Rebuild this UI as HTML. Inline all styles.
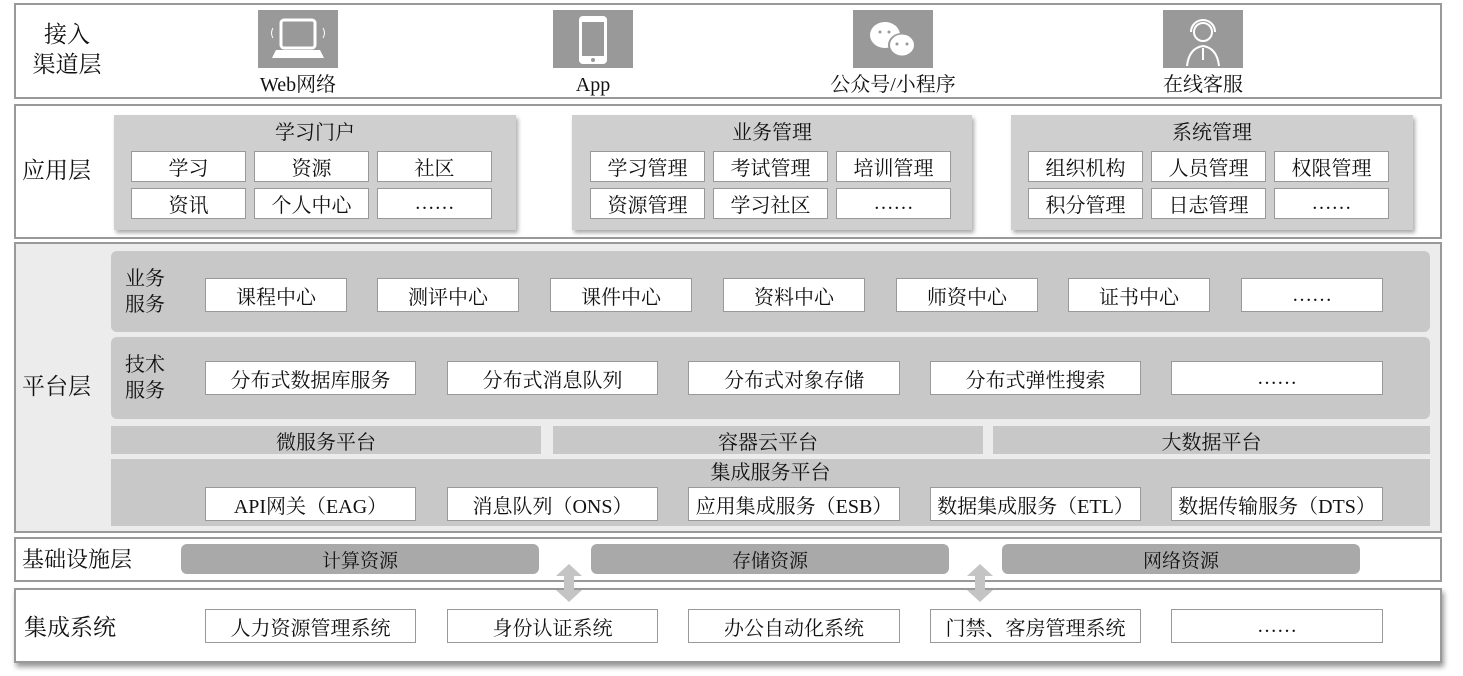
<!DOCTYPE html>
<html><head><meta charset="utf-8"><style>
*{margin:0;padding:0;box-sizing:border-box}
body{width:1463px;height:676px;background:#fff;position:relative;overflow:hidden;font-family:"Liberation Serif","Noto Serif CJK SC","Noto Sans CJK SC",serif;color:#111}
.a{position:absolute}
.layer{position:absolute;border:2px solid #999;background:#fff}
.c{display:flex;align-items:center;justify-content:center;text-align:center}
.box{position:absolute;background:#fff;border:1px solid #999;display:flex;align-items:center;justify-content:center;font-size:20px;white-space:nowrap}
.band{position:absolute;background:#c8c8c8;border-radius:6px}
.lbl{position:absolute;font-size:22px;line-height:30px}
.sm{position:absolute;font-size:20px;line-height:26px}
.icon{position:absolute;width:80px;height:58px;background:#999}
.grp{position:absolute;background:#cfcfcf;box-shadow:2px 3px 4px #aaa}
</style></head><body>
<!-- layer 1 -->
<div class="layer" style="left:14px;top:3px;width:1428px;height:96px"></div>
<div class="lbl" style="left:22px;top:20px;width:90px;text-align:center;font-size:23px">接入<br>渠道层</div>
<div class="icon" style="left:258px;top:10px"><svg width="80" height="58"><rect x="23" y="10" width="34" height="28" rx="3" fill="none" stroke="#fff" stroke-width="3"/><path d="M18 40h44l4 8H14z" fill="#fff"/><path d="M15 18q-3 5 0 10M65 18q3 5 0 10" stroke="#fff" fill="none"/></svg></div>
<div class="sm" style="left:238px;top:72px;width:120px;text-align:center">Web网络</div>
<div class="icon" style="left:553px;top:10px"><svg width="80" height="58"><rect x="26" y="6" width="28" height="48" rx="4" fill="#fff"/><rect x="29" y="12" width="22" height="34" fill="#999"/><circle cx="40" cy="50" r="2" fill="#999"/></svg></div>
<div class="sm" style="left:533px;top:72px;width:120px;text-align:center">App</div>
<div class="icon" style="left:853px;top:10px"><svg width="80" height="58"><ellipse cx="32" cy="25" rx="15" ry="13" fill="#fff"/><ellipse cx="49" cy="35" rx="14" ry="12" fill="#999"/><ellipse cx="49" cy="35" rx="12" ry="10.5" fill="#fff"/><circle cx="44" cy="34" r="1.5" fill="#999"/><circle cx="54" cy="34" r="1.5" fill="#999"/><circle cx="27" cy="22" r="1.5" fill="#999"/><circle cx="36" cy="22" r="1.5" fill="#999"/></svg></div>
<div class="sm" style="left:803px;top:72px;width:180px;text-align:center">公众号/小程序</div>
<div class="icon" style="left:1163px;top:10px"><svg width="80" height="58"><circle cx="40" cy="22" r="9" fill="none" stroke="#fff" stroke-width="2"/><path d="M28 22a12 12 0 0124 0" fill="none" stroke="#fff" stroke-width="2"/><path d="M24 56q2-18 16-20q14 2 16 20" fill="none" stroke="#fff" stroke-width="2"/><path d="M40 38v12" stroke="#fff" stroke-width="2"/></svg></div>
<div class="sm" style="left:1143px;top:72px;width:120px;text-align:center">在线客服</div>
<!-- layer 2 -->
<div class="layer" style="left:14px;top:104px;width:1428px;height:135px"></div>
<div class="lbl" style="left:22px;top:156px;font-size:23px">应用层</div>
<div class="grp" style="left:114px;top:115px;width:402px;height:115px"></div>
<div class="sm" style="left:114px;top:120px;width:402px;text-align:center">学习门户</div>
<div class="grp" style="left:572px;top:115px;width:400px;height:115px"></div>
<div class="sm" style="left:572px;top:120px;width:400px;text-align:center">业务管理</div>
<div class="grp" style="left:1011px;top:115px;width:402px;height:115px"></div>
<div class="sm" style="left:1011px;top:120px;width:402px;text-align:center">系统管理</div>
<div class="box" style="left:131px;top:151px;width:115px;height:31px">学习</div>
<div class="box" style="left:254px;top:151px;width:115px;height:31px">资源</div>
<div class="box" style="left:377px;top:151px;width:115px;height:31px">社区</div>
<div class="box" style="left:131px;top:188px;width:115px;height:31px">资讯</div>
<div class="box" style="left:254px;top:188px;width:115px;height:31px">个人中心</div>
<div class="box" style="left:377px;top:188px;width:115px;height:31px">……</div>
<div class="box" style="left:590px;top:151px;width:115px;height:31px">学习管理</div>
<div class="box" style="left:713px;top:151px;width:115px;height:31px">考试管理</div>
<div class="box" style="left:836px;top:151px;width:115px;height:31px">培训管理</div>
<div class="box" style="left:590px;top:188px;width:115px;height:31px">资源管理</div>
<div class="box" style="left:713px;top:188px;width:115px;height:31px">学习社区</div>
<div class="box" style="left:836px;top:188px;width:115px;height:31px">……</div>
<div class="box" style="left:1028px;top:151px;width:115px;height:31px">组织机构</div>
<div class="box" style="left:1151px;top:151px;width:115px;height:31px">人员管理</div>
<div class="box" style="left:1274px;top:151px;width:115px;height:31px">权限管理</div>
<div class="box" style="left:1028px;top:188px;width:115px;height:31px">积分管理</div>
<div class="box" style="left:1151px;top:188px;width:115px;height:31px">日志管理</div>
<div class="box" style="left:1274px;top:188px;width:115px;height:31px">……</div>
<!-- platform -->
<div class="layer" style="left:14px;top:242px;width:1428px;height:291px;background:#ececec"></div>
<div class="lbl" style="left:22px;top:372px;font-size:23px">平台层</div>
<div class="band" style="left:111px;top:251px;width:1319px;height:81px"></div>
<div class="sm" style="left:125px;top:266px">业务<br>服务</div>
<div class="box" style="left:205px;top:278px;width:142px;height:34px">课程中心</div>
<div class="box" style="left:377px;top:278px;width:142px;height:34px">测评中心</div>
<div class="box" style="left:550px;top:278px;width:142px;height:34px">课件中心</div>
<div class="box" style="left:723px;top:278px;width:142px;height:34px">资料中心</div>
<div class="box" style="left:896px;top:278px;width:142px;height:34px">师资中心</div>
<div class="box" style="left:1068px;top:278px;width:142px;height:34px">证书中心</div>
<div class="box" style="left:1241px;top:278px;width:142px;height:34px">……</div>
<div class="band" style="left:111px;top:337px;width:1319px;height:82px"></div>
<div class="sm" style="left:125px;top:352px">技术<br>服务</div>
<div class="box" style="left:205px;top:361px;width:211px;height:34px">分布式数据库服务</div>
<div class="box" style="left:447px;top:361px;width:211px;height:34px">分布式消息队列</div>
<div class="box" style="left:688px;top:361px;width:212px;height:34px">分布式对象存储</div>
<div class="box" style="left:930px;top:361px;width:211px;height:34px">分布式弹性搜索</div>
<div class="box" style="left:1171px;top:361px;width:212px;height:34px">……</div>
<div class="a c" style="left:111px;top:426px;width:430px;height:28px;background:#c8c8c8;font-size:20px">微服务平台</div>
<div class="a c" style="left:553px;top:426px;width:430px;height:28px;background:#c8c8c8;font-size:20px">容器云平台</div>
<div class="a c" style="left:993px;top:426px;width:437px;height:28px;background:#c8c8c8;font-size:20px">大数据平台</div>
<div class="a" style="left:111px;top:459px;width:1319px;height:67px;background:#c8c8c8"></div>
<div class="sm" style="left:111px;top:460px;width:1319px;text-align:center">集成服务平台</div>
<div class="box" style="left:205px;top:487px;width:211px;height:34px">API网关（EAG）</div>
<div class="box" style="left:447px;top:487px;width:211px;height:34px">消息队列（ONS）</div>
<div class="box" style="left:688px;top:487px;width:212px;height:34px">应用集成服务（ESB）</div>
<div class="box" style="left:930px;top:487px;width:211px;height:34px">数据集成服务（ETL）</div>
<div class="box" style="left:1171px;top:487px;width:212px;height:34px">数据传输服务（DTS）</div>
<!-- infra -->
<div class="layer" style="left:14px;top:537px;width:1428px;height:45px"></div>
<div class="lbl" style="left:22px;top:545px;font-size:22px">基础设施层</div>
<div class="a c" style="left:181px;top:544px;width:358px;height:30px;background:#a9a9a9;border-radius:6px;font-size:19px">计算资源</div>
<div class="a c" style="left:591px;top:544px;width:358px;height:30px;background:#a9a9a9;border-radius:6px;font-size:19px">存储资源</div>
<div class="a c" style="left:1002px;top:544px;width:358px;height:30px;background:#a9a9a9;border-radius:6px;font-size:19px">网络资源</div>
<!-- integration systems -->
<div class="layer" style="left:14px;top:588px;width:1428px;height:75px;box-shadow:2px 4px 5px #999"></div>
<div class="lbl" style="left:24px;top:613px;font-size:23px">集成系统</div>
<svg class="a" style="left:550px;top:562px" width="40" height="42"><path d="M19 2l13 12h-8v14h8l-13 12l-13-12h8V14h-8z" fill="#c4c4c4"/></svg>
<svg class="a" style="left:961px;top:562px" width="40" height="42"><path d="M19 2l13 12h-8v14h8l-13 12l-13-12h8V14h-8z" fill="#c4c4c4"/></svg>
<div class="box" style="left:205px;top:609px;width:211px;height:34px">人力资源管理系统</div>
<div class="box" style="left:447px;top:609px;width:211px;height:34px">身份认证系统</div>
<div class="box" style="left:688px;top:609px;width:212px;height:34px">办公自动化系统</div>
<div class="box" style="left:930px;top:609px;width:211px;height:34px">门禁、客房管理系统</div>
<div class="box" style="left:1171px;top:609px;width:212px;height:34px">……</div>
</body></html>
